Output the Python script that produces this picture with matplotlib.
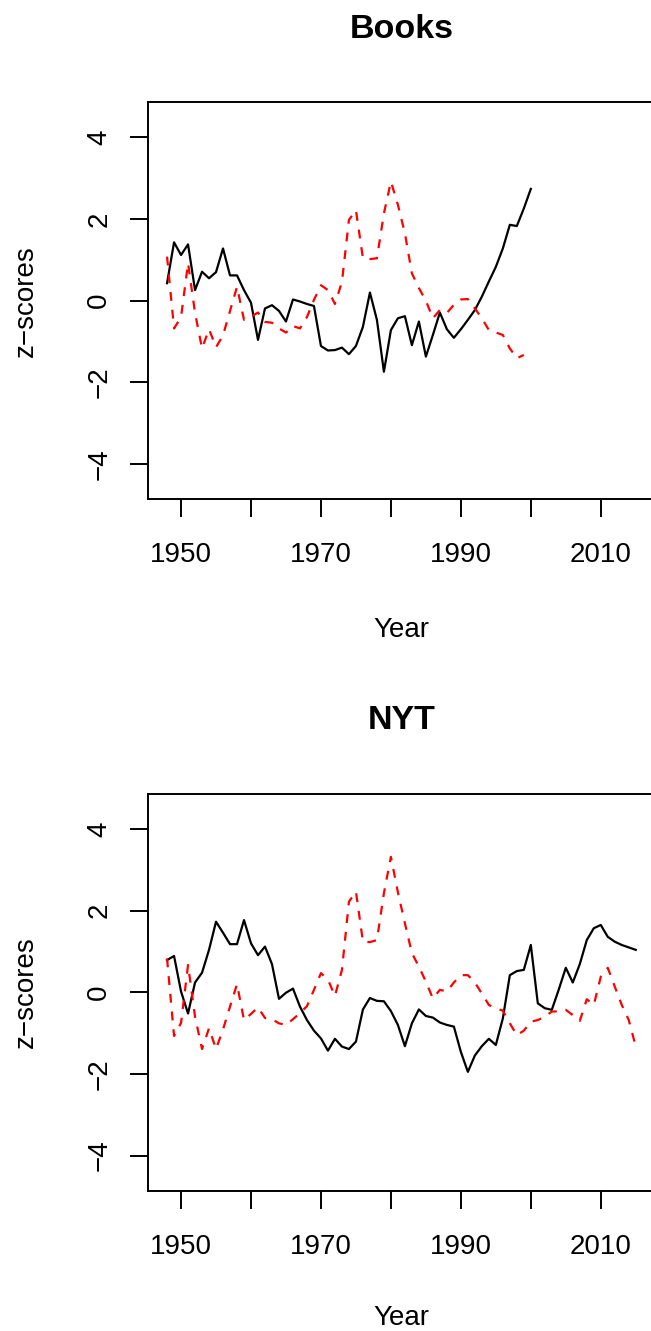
import matplotlib
matplotlib.use("Agg")
import matplotlib.pyplot as plt

# Fonts: Arial-like, same as R's Helvetica output
plt.rcParams['font.family'] = ['Liberation Sans', 'DejaVu Sans']

# ---- data ----
books_years = list(range(1948, 2001))
books_black = [0.43, 1.43, 1.12, 1.38, 0.26, 0.71, 0.55, 0.70, 1.28, 0.62,
               0.62, 0.26, -0.05, -0.96, -0.19, -0.11, -0.25, -0.51, 0.03, -0.02,
               -0.08, -0.13, -1.11, -1.22, -1.21, -1.15, -1.31, -1.11, -0.64, 0.20,
               -0.47, -1.74, -0.72, -0.43, -0.38, -1.09, -0.51, -1.37, -0.84, -0.29,
               -0.70, -0.91, -0.70, -0.47, -0.23, 0.10, 0.47, 0.83, 1.28, 1.86,
               1.83, 2.26, 2.74]
books_red_years = list(range(1948, 2000))
books_red = [1.08, -0.68, -0.40, 0.92, -0.30, -1.17, -0.70, -1.14, -0.85, -0.25,
             0.34, -0.47, -0.39, -0.29, -0.52, -0.54, -0.68, -0.78, -0.62, -0.68,
             -0.40, 0.02, 0.38, 0.26, -0.08, 0.46, 1.98, 2.22, 1.04, 1.02,
             1.04, 2.14, 2.92, 2.35, 1.65, 0.67, 0.31, 0.00, -0.43, -0.23,
             -0.30, -0.10, 0.03, 0.04, -0.19, -0.43, -0.72, -0.78, -0.84, -1.17,
             -1.41, -1.33]

nyt_years = list(range(1948, 2016))
nyt_black = [0.79, 0.89, 0.02, -0.52, 0.24, 0.48, 1.04, 1.73, 1.46, 1.18,
             1.18, 1.77, 1.20, 0.91, 1.12, 0.69, -0.16, -0.01, 0.09, -0.35,
             -0.68, -0.94, -1.13, -1.43, -1.14, -1.33, -1.39, -1.21, -0.42, -0.14,
             -0.21, -0.22, -0.46, -0.80, -1.32, -0.76, -0.42, -0.58, -0.62, -0.74,
             -0.80, -0.84, -1.46, -1.95, -1.55, -1.32, -1.14, -1.29, -0.64, 0.42,
             0.52, 0.55, 1.16, -0.27, -0.39, -0.43, 0.07, 0.60, 0.24, 0.69,
             1.28, 1.57, 1.65, 1.36, 1.24, 1.16, 1.10, 1.04]
nyt_red = [0.83, -1.07, -0.75, 0.67, -0.60, -1.39, -0.88, -1.39, -0.91, -0.35,
           0.20, -0.68, -0.53, -0.37, -0.63, -0.66, -0.76, -0.80, -0.66, -0.51,
           -0.34, 0.06, 0.47, 0.31, -0.09, 0.55, 2.22, 2.47, 1.24, 1.23,
           1.28, 2.43, 3.32, 2.45, 1.69, 0.96, 0.63, 0.26, -0.15, 0.06,
           0.02, 0.24, 0.42, 0.42, 0.24, -0.03, -0.31, -0.39, -0.45, -0.76,
           -1.05, -0.94, -0.72, -0.68, -0.60, -0.47, -0.47, -0.43, -0.56, -0.70,
           -0.17, -0.31, 0.38, 0.60, 0.14, -0.31, -0.68, -1.33]

panel_titles = ['Books', 'NYT']
xtick_vals = [1950, 1960, 1970, 1980, 1990, 2000, 2010]
xtick_labels = ['1950', '', '1970', '', '1990', '', '2010']
ytick_vals = [-4, -2, 0, 2, 4]

# R-style axis extension (4%)
xlim = (1948 - 0.04 * 67, 2015 + 0.04 * 67)
ylim = (-4.5 - 0.04 * 9, 4.5 + 0.04 * 9)

W, H = 651, 1331
fig = plt.figure(figsize=(W / 100, H / 100), dpi=100)

# plot regions in pixels: left, top, right, bottom (right runs past the edge)
boxes = [(148.3, 102.4, 654.5, 499.0), (148.3, 794.0, 654.5, 1190.6)]
series = [(books_years, books_black, books_red_years, books_red),
          (nyt_years, nyt_black, nyt_years, nyt_red)]
xlabel_y = [-0.297, -0.288]

for i in range(2):
    l, t, r, b = boxes[i]
    ax = fig.add_axes([l / W, 1 - b / H, (r - l) / W, (b - t) / H])
    xb, yb, xr, yr = series[i]
    ax.plot(xb, yb, color='black', lw=1.6)
    ax.plot(xr, yr, color='red', lw=1.6, linestyle=(0, (4, 4)))

    ax.set_xlim(xlim)
    ax.set_ylim(ylim)
    ax.set_xticks(xtick_vals)
    ax.set_xticklabels(xtick_labels)
    ax.set_yticks(ytick_vals)
    ax.set_yticklabels([str(v).replace('-', '\u2212') for v in ytick_vals])
    plt.setp(ax.get_yticklabels(), rotation=90, va='center')

    ax.tick_params(axis='both', length=13, width=1.4, labelsize=20, color='black')
    ax.tick_params(axis='x', pad=18)
    ax.tick_params(axis='y', pad=13)
    for s in ax.spines.values():
        s.set_linewidth(1.4)

    ax.set_title(panel_titles[i], fontsize=24.5, fontweight='bold', pad=46.5)
    ax.set_xlabel('Year', fontsize=20)
    ax.set_ylabel('z\u2212scores', fontsize=20)
    ax.xaxis.set_label_coords(0.5, xlabel_y[i])
    ax.yaxis.set_label_coords(-0.216, 0.5)

fig.savefig('out.png', dpi=100)
